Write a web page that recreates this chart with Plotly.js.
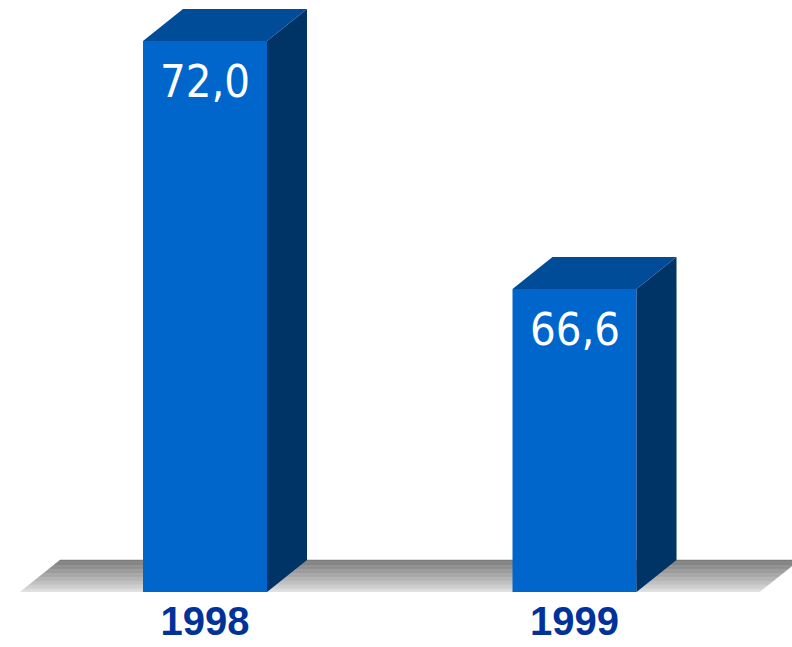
<!DOCTYPE html>
<html>
<head>
<meta charset="utf-8">
<script src="https://cdn.plot.ly/plotly-3.0.1.min.js"></script>
<style>html,body{margin:0;padding:0;background:#fff;}#chart{width:792px;height:647px;}</style>
</head>
<body>
<div id="chart"></div>
<script>
// ---- data ----
const categories = ['1998', '1999'];
const values = [72.0, 66.6];
const valueLabels = ['72,0', '66,6'];

// ---- geometry / style constants ----
const Y_MIN = 60;
const Y_MAX = 72.892;
const X_RANGE = [-0.5548, 1.5886];
const BAR_W = 0.3356;
const DX = 0.1083;   // depth offset (x units)
const DY = 0.697;    // depth offset (y units)
const FLOOR_X0 = -0.5, FLOOR_X1 = 1.5;

const FRONT = '#0066CC';
const TOP = '#004C99';
const SIDE = '#003366';

const xPos = categories.map((_, i) => i);

const traces = [];
// side and top faces of the 3D bars
xPos.forEach((x, i) => {
  const v = values[i];
  const xl = x - BAR_W / 2, xr = x + BAR_W / 2;
  traces.push({
    type: 'scatter', mode: 'lines', fill: 'toself', fillcolor: SIDE,
    line: {width: 0, color: SIDE}, hoverinfo: 'skip', showlegend: false,
    x: [xr, xr + DX, xr + DX, xr, xr],
    y: [Y_MIN, Y_MIN + DY, v + DY, v, Y_MIN]
  });
  traces.push({
    type: 'scatter', mode: 'lines', fill: 'toself', fillcolor: TOP,
    line: {width: 0, color: TOP}, hoverinfo: 'skip', showlegend: false,
    x: [xl, xl + DX, xr + DX, xr, xl],
    y: [v, v + DY, v + DY, v, v]
  });
});
// front faces
traces.push({
  type: 'bar', x: xPos, y: values, width: BAR_W,
  marker: {color: FRONT, line: {width: 0}},
  hoverinfo: 'skip', showlegend: false
});

// floor as gradient bands (drawn below traces)
const shapes = [];
const N = 24;
function lerp(a, b, t) { return Math.round(a + (b - a) * t); }
for (let k = 0; k < N; k++) {
  const t0 = k / N, t1 = (k + 1) / N;
  const tc = (k + 0.5) / N;
  const g = lerp(232, 124, Math.pow(tc, 0.8));
  const c = 'rgb(' + g + ',' + g + ',' + g + ')';
  const y0 = Y_MIN + t0 * DY, y1 = Y_MIN + t1 * DY;
  const path = 'M ' + (FLOOR_X0 + t0 * DX) + ' ' + y0 +
    ' L ' + (FLOOR_X1 + t0 * DX) + ' ' + y0 +
    ' L ' + (FLOOR_X1 + t1 * DX) + ' ' + y1 +
    ' L ' + (FLOOR_X0 + t1 * DX) + ' ' + y1 + ' Z';
  shapes.push({type: 'path', xref: 'x', yref: 'y', path: path, layer: 'below',
    fillcolor: c, line: {width: 0.5, color: c}});
}

const annotations = xPos.map((x, i) => ({
  x: x, y: values[i], xref: 'x', yref: 'y', text: valueLabels[i],
  showarrow: false, yanchor: 'middle', xanchor: 'center', yshift: -41,
  font: {family: 'DejaVu Sans Condensed, sans-serif', size: 45, color: '#ffffff'}
}));

const layout = {
  width: 792, height: 647,
  margin: {l: 0, r: 0, t: 0, b: 55},
  paper_bgcolor: '#ffffff', plot_bgcolor: '#ffffff',
  showlegend: false,
  xaxis: {
    range: X_RANGE, tickvals: xPos, ticktext: categories,
    showgrid: false, zeroline: false, showline: false, ticks: '',
    ticklabelstandoff: 2,
    tickfont: {family: 'Liberation Sans, Arial, sans-serif', size: 40, color: '#003399', weight: 'bold'}
  },
  yaxis: {
    range: [Y_MIN, Y_MAX], showgrid: false, zeroline: false, showline: false,
    showticklabels: false, ticks: ''
  },
  shapes: shapes,
  annotations: annotations
};

Plotly.newPlot('chart', traces, layout, {displayModeBar: false, staticPlot: true});
</script>
</body>
</html>
